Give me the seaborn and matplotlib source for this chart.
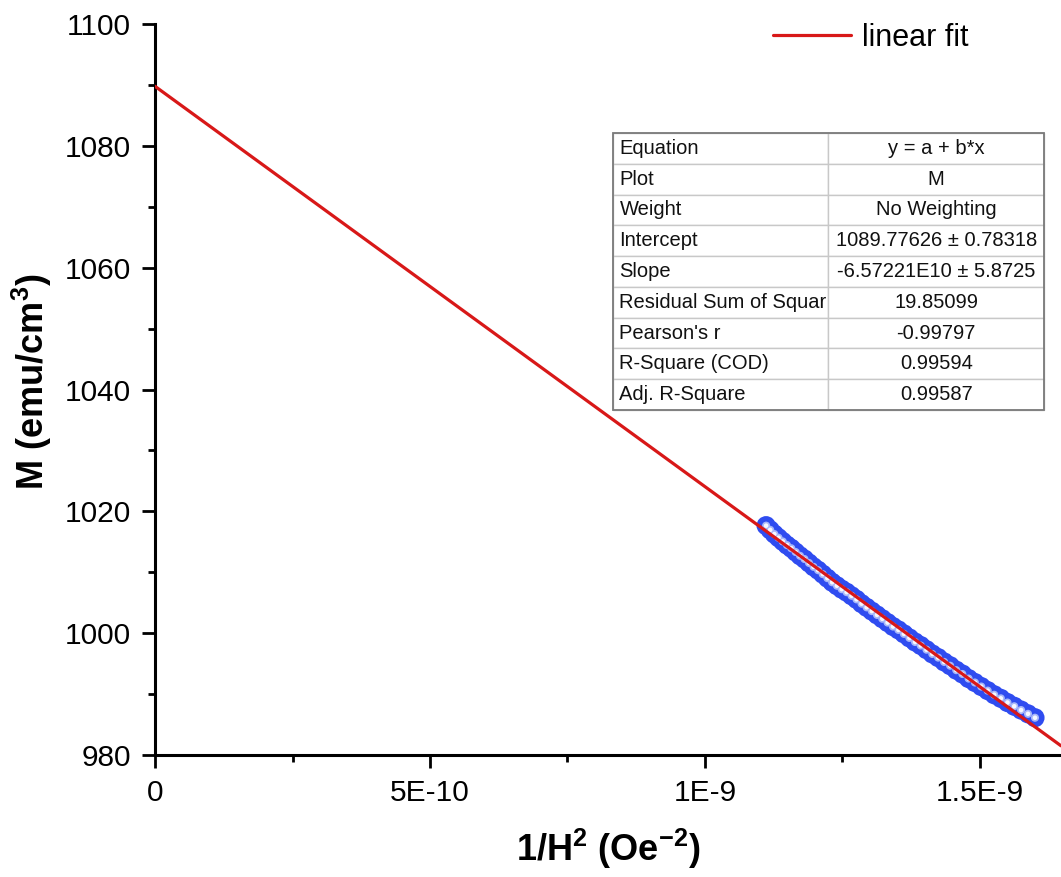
import numpy as np
import pandas as pd
import matplotlib
matplotlib.use("Agg")
import matplotlib.pyplot as plt
import seaborn as sns
from matplotlib.ticker import MultipleLocator
from matplotlib.patches import Rectangle

# ---------------- data ----------------
# 1/H^2 in units of 1e-9 Oe^-2
inv_h2_e9 = [1.11111, 1.11856, 1.12608, 1.13367, 1.14135, 1.14909, 1.15692, 1.16484,
             1.17283, 1.18090, 1.18906, 1.19730, 1.20563, 1.21405, 1.22255, 1.23115,
             1.23983, 1.24861, 1.25748, 1.26645, 1.27551, 1.28467, 1.29393, 1.30329,
             1.31275, 1.32231, 1.33198, 1.34176, 1.35164, 1.36164, 1.37174, 1.38196,
             1.39229, 1.40274, 1.41331, 1.42399, 1.43480, 1.44573, 1.45679, 1.46797,
             1.47929, 1.49074, 1.50232, 1.51403, 1.52588, 1.53787, 1.55000, 1.56228,
             1.57470, 1.58728, 1.60000]
m_emu = [1017.65, 1016.96, 1016.27, 1015.67, 1015.06, 1014.46, 1013.94, 1013.32,
         1012.70, 1012.17, 1011.53, 1010.89, 1010.34, 1009.69, 1009.03, 1008.36,
         1007.79, 1007.22, 1006.73, 1006.14, 1005.55, 1004.85, 1004.24, 1003.62,
         1003.00, 1002.37, 1001.74, 1001.09, 1000.54, 999.89, 999.22, 998.55,
         997.97, 997.29, 996.59, 995.99, 995.28, 994.66, 993.93, 993.30,
         992.55, 991.90, 991.24, 990.57, 989.89, 989.30, 988.61, 988.00,
         987.38, 986.76, 986.12]

intercept = 1089.77626
slope = -6.57221e10

param_names = ["Equation", "Plot", "Weight", "Intercept", "Slope",
               "Residual Sum of Squar", "Pearson's r", "R-Square (COD)", "Adj. R-Square"]
param_values = ["y = a + b*x", "M", "No Weighting", "1089.77626 \u00b1 0.78318",
                "-6.57221E10 \u00b1 5.8725", "19.85099", "-0.99797", "0.99594", "0.99587"]

xtick_vals = [0, 5e-10, 1e-9, 1.5e-9]
xtick_labels = ["0", "5E-10", "1E-9", "1.5E-9"]
ytick_vals = [980, 1000, 1020, 1040, 1060, 1080, 1100]

# ---------------- style ----------------
sns.set_theme(style="ticks")
plt.rcParams["font.family"] = ["Liberation Sans", "DejaVu Sans"]
plt.rcParams["mathtext.fontset"] = "custom"
plt.rcParams["mathtext.rm"] = "Liberation Sans"
plt.rcParams["mathtext.bf"] = "Liberation Sans:bold"
plt.rcParams["mathtext.it"] = "Liberation Sans:italic"
plt.rcParams["text.color"] = "black"
plt.rcParams["axes.labelcolor"] = "black"

blue = "#2f4cf0"
red = "#d81818"

fig = plt.figure(figsize=(10.61, 8.77), dpi=100)
ax = fig.add_axes([0.1461, 0.1391, 1 - 0.1461, 0.9726 - 0.1391])

xmax = 1.6473e-9
ax.set_xlim(0, xmax)
ax.set_ylim(980, 1100)

df = pd.DataFrame({"x": np.array(inv_h2_e9) * 1e-9, "M": m_emu})
sns.scatterplot(data=df, x="x", y="M", s=190, color=blue, edgecolor="none",
                linewidth=0, ax=ax, zorder=3, legend=False)
sns.scatterplot(data=df, x="x", y="M", s=34, color="#a8b7f9", edgecolor="none",
                linewidth=0, ax=ax, zorder=3.1, legend=False)
sns.scatterplot(data=df, x="x", y="M", s=11, color="#f6f8ff", edgecolor="none",
                linewidth=0, ax=ax, zorder=3.2, legend=False)

fit_x = np.array([0.0, xmax])
fit_y = intercept + slope * fit_x
sns.lineplot(x=fit_x, y=fit_y, color=red, lw=2.3, ax=ax, zorder=4, label="linear fit",
             sort=False, estimator=None)

# axes styling
for s in ["top", "right"]:
    ax.spines[s].set_visible(False)
for s in ["left", "bottom"]:
    ax.spines[s].set_linewidth(2.2)
    ax.spines[s].set_color("black")

ax.set_xticks(xtick_vals, labels=xtick_labels)
ax.set_yticks(ytick_vals)
ax.xaxis.set_minor_locator(MultipleLocator(2.5e-10))
ax.yaxis.set_minor_locator(MultipleLocator(10))
ax.tick_params(which="major", direction="out", length=9.5, width=2, labelsize=21.5,
               color="black", labelcolor="black")
ax.tick_params(which="minor", direction="out", length=5, width=2, color="black")
ax.tick_params(axis="x", which="major", pad=8)
ax.tick_params(axis="y", which="major", pad=8)

ax.set_xlabel(r"1/H$^{\mathbf{2}}$ (Oe$^{\mathbf{-2}}$)", fontsize=26, fontweight="bold")
ax.set_ylabel(r"M (emu/cm$^{\mathbf{3}}$)", fontsize=26, fontweight="bold")
ax.xaxis.set_label_coords(0.5, -0.098)
ax.yaxis.set_label_coords(-0.112, 0.51)

# legend
leg = ax.legend(loc="center left", bbox_to_anchor=(773 / 1061, 1 - 38 / 877),
                bbox_transform=fig.transFigure, frameon=False, fontsize=22,
                handlelength=2.55, handletextpad=0.35, borderpad=0, borderaxespad=0)
for t in leg.get_texts():
    t.set_color("black")

# fit parameter table
rows = [[n, v] for n, v in zip(param_names, param_values)]
bbox = [0.5055, 0.4720, 0.4757, 0.3789]
tbl = ax.table(cellText=rows, bbox=bbox, cellLoc="center", zorder=5)
tbl.auto_set_font_size(False)
tbl.set_fontsize(14.5)
for (r, c), cell in tbl.get_celld().items():
    cell.set_edgecolor("#c8c8c8")
    cell.set_linewidth(1.0)
    cell.set_facecolor("white")
    cell.PAD = 0.03
    if c == 0:
        cell.get_text().set_ha("left")
        cell._loc = "left"
    cell.get_text().set_color("#111111")
ax.add_patch(Rectangle((bbox[0], bbox[1]), bbox[2], bbox[3], transform=ax.transAxes,
                       fill=False, edgecolor="#7a7a7a", lw=1.3, zorder=6, clip_on=False))

fig.savefig("out.png", dpi=100)
